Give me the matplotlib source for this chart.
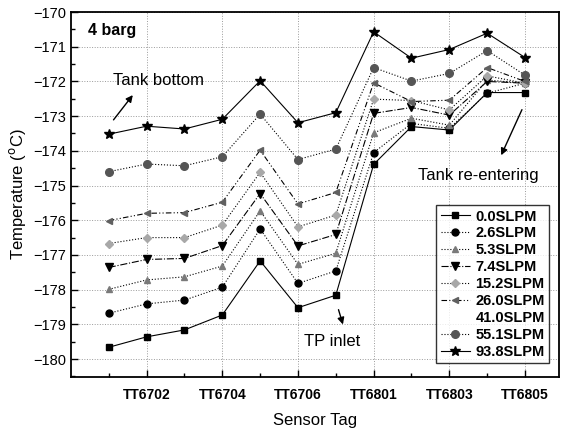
import numpy as np
import matplotlib
matplotlib.use('Agg')
import matplotlib.pyplot as plt
from matplotlib.ticker import MultipleLocator

plt.rcParams['font.family'] = ['Liberation Sans', 'DejaVu Sans']

# Sensor tags along the line (TT67xx = tank, TT68xx = transfer line)
sensors = ['TT6701', 'TT6702', 'TT6703', 'TT6704', 'TT6705', 'TT6706', 'TT6707',
           'TT6801', 'TT6802', 'TT6803', 'TT6804', 'TT6805']
tick_labels = ['TT6702', 'TT6704', 'TT6706', 'TT6801', 'TT6803', 'TT6805']

# Temperatures (deg C), one list per flow rate
t_00 = [-179.66, -179.36, -179.16, -178.73, -177.17, -178.52, -178.16, -174.39, -173.30, -173.40, -172.32, -172.32]
t_26 = [-178.68, -178.41, -178.30, -177.93, -176.25, -177.82, -177.46, -174.05, -173.21, -173.35, -172.34, -172.05]
t_53 = [-177.99, -177.72, -177.63, -177.32, -175.73, -177.27, -176.95, -173.48, -173.06, -173.26, -171.96, -172.05]
t_74 = [-177.36, -177.13, -177.10, -176.73, -175.23, -176.74, -176.41, -172.92, -172.75, -172.97, -172.00, -172.05]
t_152 = [-176.67, -176.50, -176.50, -176.14, -174.62, -176.19, -175.85, -172.51, -172.55, -172.82, -171.84, -172.05]
t_260 = [-176.01, -175.80, -175.78, -175.48, -173.98, -175.53, -175.20, -172.04, -172.58, -172.54, -171.60, -172.00]
t_551 = [-174.60, -174.38, -174.43, -174.17, -172.94, -174.25, -173.95, -171.60, -171.99, -171.77, -171.11, -171.82]
t_938 = [-173.52, -173.29, -173.37, -173.09, -171.98, -173.19, -172.90, -170.57, -171.33, -171.08, -170.61, -171.31]

x = np.arange(1, len(sensors) + 1)

fig = plt.figure(figsize=(5.63, 4.30), dpi=100)
ax = fig.add_axes([0.126, 0.123, 0.867, 0.849])

# label, data, linestyle, marker, marker colour, marker size
series = [
    ('0.0SLPM', t_00, '-', 's', 'black', 5),
    ('2.6SLPM', t_26, ':', 'o', 'black', 5),
    ('5.3SLPM', t_53, ':', '^', '#7a7a7a', 4.5),
    ('7.4SLPM', t_74, '-.', 'v', 'black', 6),
    ('15.2SLPM', t_152, ':', 'D', '#a8a8a8', 4.5),
    ('26.0SLPM', t_260, (0, (5, 2, 1, 2, 1, 2)), '<', '#606060', 5),
    ('41.0SLPM', None, '-', '', 'none', 0),
    ('55.1SLPM', t_551, ':', 'o', '#555555', 5.5),
    ('93.8SLPM', t_938, '-', '*', 'black', 7.5),
]

for label, data, ls, mk, mc, ms in series:
    if data is None:
        ax.plot([], [], color='none', label=label)
        continue
    ax.plot(x, data, linestyle=ls, color='black', linewidth=0.8,
            marker=mk, markersize=ms, markerfacecolor=mc, markeredgecolor=mc,
            label=label)

ax.set_xlim(0, 12.9)
ax.set_ylim(-180.52, -170)
ax.set_xticks(x[1::2])
ax.set_xticklabels(tick_labels)
ax.set_xticks(x[0::2], minor=True)
ax.yaxis.set_major_locator(MultipleLocator(1))
ax.yaxis.set_minor_locator(MultipleLocator(0.5))
ax.tick_params(which='both', direction='in', width=1.0)
ax.tick_params(which='major', length=5, labelsize=10.5)
ax.tick_params(which='minor', length=3)
ax.tick_params(axis='x', pad=8, labelsize=10)
for lab in ax.get_xticklabels():
    lab.set_fontweight('bold')

ax.grid(True, which='major', linestyle=':', color='#9a9a9a', linewidth=0.7)
ax.set_axisbelow(True)
for sp in ax.spines.values():
    sp.set_linewidth(1.3)

ax.set_xlabel('Sensor Tag', fontsize=12, labelpad=8)
ax.set_ylabel('Temperature ($^{\\rm o}$C)', fontsize=12, labelpad=4)

# annotations
ax.text(0.45, -170.52, '4 barg', fontsize=11.5, fontweight='bold', va='center')
ax.text(1.1, -171.96, 'Tank bottom', fontsize=12, va='center')
ax.text(9.18, -174.7, 'Tank re-entering', fontsize=12, va='center')
ax.text(6.16, -179.5, 'TP inlet', fontsize=12, va='center')
arrow = dict(arrowstyle='-|>', color='black', lw=1.0, mutation_scale=10)
ax.annotate('', xy=(1.68, -172.33), xytext=(1.08, -173.17), arrowprops=arrow)
ax.annotate('', xy=(11.34, -174.2), xytext=(11.95, -172.74), arrowprops=arrow)
ax.annotate('', xy=(7.21, -179.08), xytext=(7.05, -178.5), arrowprops=arrow)

leg = ax.legend(loc='lower right', bbox_to_anchor=(0.98, 0.038), fontsize=10.5,
                frameon=True, fancybox=False, edgecolor='black',
                handlelength=2.0, handletextpad=0.4, labelspacing=0.2,
                borderpad=0.3, borderaxespad=0)
leg.get_frame().set_linewidth(1.0)
for t in leg.get_texts():
    t.set_fontweight('bold')

fig.savefig('out.png', dpi=100)
